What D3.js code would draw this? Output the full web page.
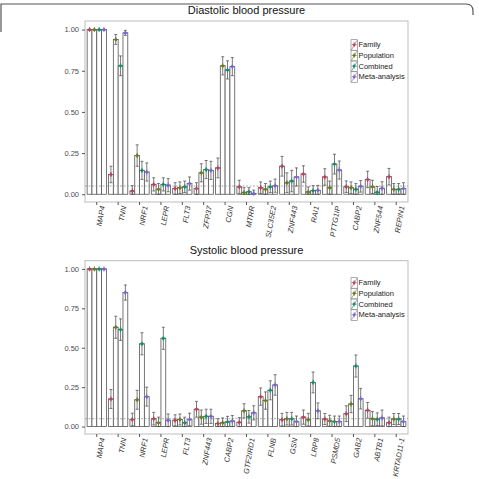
<!DOCTYPE html>
<html>
<head>
<meta charset="utf-8">
<script src="https://cdn.jsdelivr.net/npm/d3@7"></script>
<style>
  body { margin: 0; background: #fff; }
  svg { display: block; font-family: 'Liberation Sans', Arial, sans-serif; }
</style>
</head>
<body>
<div id="chart"></div>
<script>
const seriesNames = ['Family', 'Population', 'Combined', 'Meta-analysis'];
const seriesColors = ['#b5445f', '#6b7a22', '#1d8a6e', '#7a67c9'];

// Diastolic blood pressure
const diaGenes = ['MAP4', 'TNN', 'NRF1', 'LEPR', 'FLT3', 'ZFP37', 'CGN', 'MTRR', 'SLC35E2', 'ZNF443', 'RAI1', 'PTTG1IP', 'CABP2', 'ZNF544', 'REPIN1'];
const diaFamily = [1.00, 0.12, 0.02, 0.06, 0.035, 0.035, 0.16, 0.045, 0.04, 0.17, 0.123, 0.105, 0.046, 0.09, 0.107];
const diaPopulation = [1.00, 0.94, 0.235, 0.03, 0.04, 0.13, 0.78, 0.01, 0.03, 0.07, 0.014, 0.04, 0.04, 0.045, 0.03];
const diaCombined = [1.00, 0.78, 0.145, 0.06, 0.045, 0.15, 0.755, 0.015, 0.045, 0.08, 0.022, 0.183, 0.03, 0.012, 0.03];
const diaMeta = [1.00, 0.98, 0.135, 0.055, 0.065, 0.145, 0.775, 0.005, 0.052, 0.105, 0.024, 0.147, 0.048, 0.036, 0.035];
const diaFamilyErr = [0.005, 0.05, 0.032, 0.04, 0.035, 0.035, 0.06, 0.04, 0.035, 0.06, 0.05, 0.05, 0.035, 0.05, 0.05];
const diaPopulationErr = [0.005, 0.03, 0.065, 0.035, 0.035, 0.055, 0.055, 0.03, 0.035, 0.06, 0.03, 0.04, 0.035, 0.04, 0.035];
const diaCombinedErr = [0.005, 0.06, 0.055, 0.04, 0.035, 0.055, 0.055, 0.025, 0.035, 0.065, 0.03, 0.06, 0.035, 0.035, 0.035];
const diaMetaErr = [0.005, 0.015, 0.055, 0.04, 0.04, 0.055, 0.055, 0.02, 0.04, 0.055, 0.03, 0.055, 0.035, 0.04, 0.035];

// Systolic blood pressure
const sysGenes = ['MAP4', 'TNN', 'NRF1', 'LEPR', 'FLT3', 'ZNF443', 'CABP2', 'GTF2IRD1', 'FLNB', 'GSN', 'LRP8', 'PSMD5', 'GAB2', 'ABTB1', 'KRTAD11-1'];
const sysFamily = [1.00, 0.175, 0.045, 0.05, 0.04, 0.11, 0.02, 0.027, 0.19, 0.044, 0.06, 0.048, 0.082, 0.103, 0.025];
const sysPopulation = [1.00, 0.63, 0.17, 0.025, 0.045, 0.06, 0.025, 0.10, 0.165, 0.05, 0.044, 0.037, 0.143, 0.05, 0.048];
const sysCombined = [1.00, 0.615, 0.525, 0.56, 0.025, 0.065, 0.03, 0.062, 0.23, 0.05, 0.28, 0.032, 0.384, 0.047, 0.048];
const sysMeta = [1.00, 0.85, 0.19, 0.04, 0.045, 0.065, 0.035, 0.087, 0.264, 0.032, 0.10, 0.032, 0.177, 0.055, 0.032];
const sysFamilyErr = [0.005, 0.06, 0.04, 0.04, 0.035, 0.05, 0.03, 0.03, 0.055, 0.04, 0.045, 0.035, 0.05, 0.05, 0.035];
const sysPopulationErr = [0.005, 0.07, 0.06, 0.035, 0.035, 0.045, 0.03, 0.045, 0.055, 0.04, 0.04, 0.035, 0.055, 0.045, 0.035];
const sysCombinedErr = [0.005, 0.068, 0.07, 0.07, 0.035, 0.045, 0.035, 0.04, 0.06, 0.04, 0.066, 0.035, 0.07, 0.04, 0.035];
const sysMetaErr = [0.005, 0.048, 0.06, 0.04, 0.04, 0.045, 0.035, 0.045, 0.065, 0.035, 0.05, 0.035, 0.065, 0.05, 0.035];

const yTicks = [0, 0.25, 0.5, 0.75, 1];
const threshold = 0.05;

const width = 479, height = 479;
const svg = d3.select('#chart').append('svg').attr('width', width).attr('height', height);

// outer frame fragment (figure border)
svg.append('path')
  .attr('d', 'M1,32 L1,4 L466,4 Q473,4 473,11 L473,15')
  .attr('fill', 'none').attr('stroke', '#555').attr('stroke-width', 1.2);

function drawPanel(opts) {
  const x0 = 85, x1 = 408;
  const g = svg.append('g');

  const x = d3.scaleBand().domain(opts.genes).range([x0, x1]).paddingInner(0.1).paddingOuter(0.1);
  const xs = d3.scaleBand().domain(seriesNames).range([0, x.bandwidth()]);
  const y = d3.scaleLinear().domain([-0.047, 1.052]).range([opts.bottom, opts.top]);

  const rows = [];
  opts.genes.forEach(function(gene, i) {
    seriesNames.forEach(function(s, k) {
      rows.push({ gene: gene, series: s, k: k, v: opts.values[k][i], e: opts.errs[k][i] });
    });
  });

  g.append('text')
    .attr('x', (x0 + x1) / 2).attr('y', opts.top - 7)
    .attr('text-anchor', 'middle')
    .attr('font-size', 11).attr('fill', '#111')
    .text(opts.title);

  // panel border
  g.append('rect')
    .attr('x', x0).attr('y', opts.top).attr('width', x1 - x0).attr('height', opts.bottom - opts.top)
    .attr('fill', '#fff').attr('stroke', '#b5b5b5').attr('stroke-width', 0.9);

  // y axis
  const yAxis = g.append('g').attr('transform', 'translate(' + x0 + ',0)')
    .call(d3.axisLeft(y).tickValues(yTicks).tickFormat(d3.format('.2f')).tickSize(3));
  yAxis.select('.domain').remove();
  yAxis.selectAll('line').attr('stroke', '#555');
  yAxis.selectAll('text').attr('font-size', 7.5).attr('fill', '#4d4d4d').attr('font-family', 'Liberation Sans, Arial, sans-serif');

  // x axis
  const xAxis = g.append('g').attr('transform', 'translate(0,' + opts.bottom + ')')
    .call(d3.axisBottom(x).tickSize(3).tickSizeOuter(0));
  xAxis.select('.domain').remove();
  xAxis.selectAll('line').attr('stroke', '#555');
  xAxis.selectAll('text')
    .attr('font-size', 7.5).attr('font-style', 'italic').attr('fill', '#333')
    .attr('font-family', 'Liberation Sans, Arial, sans-serif')
    .attr('text-anchor', 'end')
    .attr('dy', '0.32em')
    .attr('transform', 'translate(0,3) rotate(-80)');

  // bars
  g.append('g').selectAll('rect')
    .data(rows).enter().append('rect')
    .attr('x', function(d) { return x(d.gene) + xs(d.series); })
    .attr('y', function(d) { return y(d.v); })
    .attr('width', xs.bandwidth())
    .attr('height', function(d) { return y(0) - y(d.v); })
    .attr('fill', '#fff').attr('stroke', '#555').attr('stroke-width', 0.8);

  // threshold line
  g.append('line')
    .attr('x1', x0).attr('x2', x1)
    .attr('y1', y(threshold)).attr('y2', y(threshold))
    .attr('stroke', '#888').attr('stroke-width', 0.7).attr('stroke-dasharray', '2,1.5');

  // error bars
  const eb = g.append('g').attr('stroke', '#444').attr('stroke-width', 0.7);
  rows.forEach(function(d) {
    const cx = x(d.gene) + xs(d.series) + xs.bandwidth() / 2;
    const hi = Math.min(d.v + d.e, 1.0), lo = Math.max(d.v - d.e, 0);
    eb.append('line').attr('x1', cx).attr('x2', cx).attr('y1', y(hi)).attr('y2', y(lo));
    eb.append('line').attr('x1', cx - 1.5).attr('x2', cx + 1.5).attr('y1', y(hi)).attr('y2', y(hi));
    eb.append('line').attr('x1', cx - 1.5).attr('x2', cx + 1.5).attr('y1', y(lo)).attr('y2', y(lo));
  });

  // points
  const pts = g.append('g').selectAll('g')
    .data(rows).enter().append('g')
    .attr('transform', function(d) {
      return 'translate(' + (x(d.gene) + xs(d.series) + xs.bandwidth() / 2) + ',' + y(d.v) + ')';
    });
  pts.append('circle').attr('r', 1.5).attr('fill', function(d) { return seriesColors[d.k]; });
  pts.append('path').attr('d', 'M-2.5,0H2.5M0,-2.5V2.5')
    .attr('stroke', function(d) { return seriesColors[d.k]; }).attr('stroke-width', 0.9);

  // legend
  const lg = g.append('g').attr('transform', 'translate(351,' + opts.legendTop + ')');
  seriesNames.forEach(function(s, k) {
    const row = lg.append('g').attr('transform', 'translate(0,' + (k * 10.7) + ')');
    row.append('rect').attr('x', 0).attr('y', -5).attr('width', 6.5).attr('height', 10.5)
      .attr('fill', '#fff').attr('stroke', '#777').attr('stroke-width', 0.6);
    row.append('line').attr('x1', 0.5).attr('y1', 5).attr('x2', 6).attr('y2', -4.5)
      .attr('stroke', seriesColors[k]).attr('stroke-width', 0.6);
    row.append('circle').attr('cx', 3.2).attr('cy', 0).attr('r', 1.3).attr('fill', seriesColors[k]);
    row.append('path').attr('d', 'M0.7,0H5.7M3.2,-2.5V2.5').attr('stroke', seriesColors[k]).attr('stroke-width', 0.8);
    row.append('text').attr('x', 7.5).attr('y', 0).attr('dy', '0.35em')
      .attr('font-size', 7.5).attr('fill', '#222').text(s);
  });
}

drawPanel({
  title: 'Diastolic blood pressure',
  genes: diaGenes,
  values: [diaFamily, diaPopulation, diaCombined, diaMeta],
  errs: [diaFamilyErr, diaPopulationErr, diaCombinedErr, diaMetaErr],
  top: 21, bottom: 202, legendTop: 44.7
});

drawPanel({
  title: 'Systolic blood pressure',
  genes: sysGenes,
  values: [sysFamily, sysPopulation, sysCombined, sysMeta],
  errs: [sysFamilyErr, sysPopulationErr, sysCombinedErr, sysMetaErr],
  top: 260.7, bottom: 434, legendTop: 282.7
});
</script>
</body>
</html>
